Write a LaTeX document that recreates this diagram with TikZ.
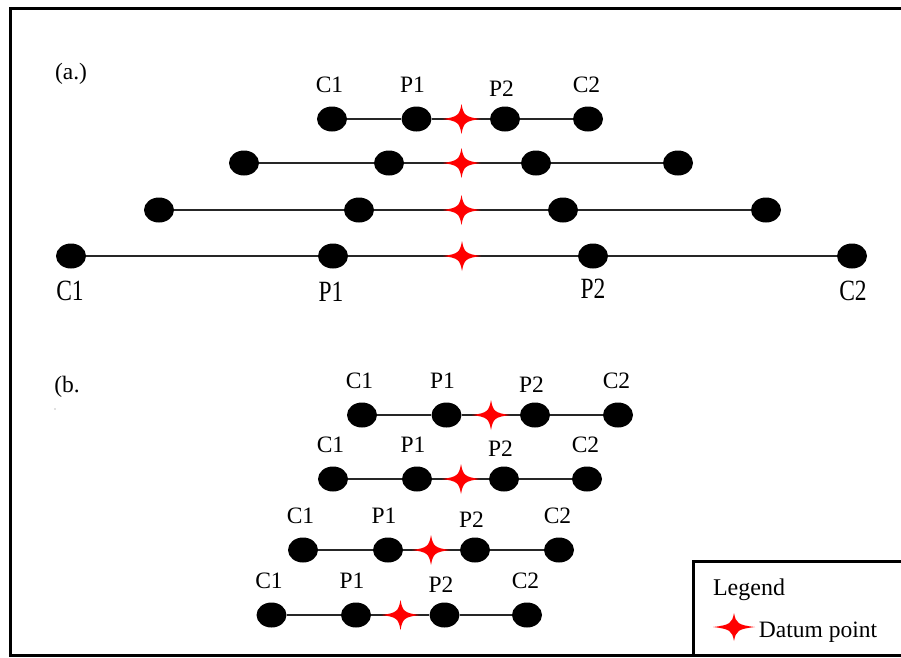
\documentclass[tikz,border=0pt]{standalone}
\usepackage{fontspec}
\setmainfont{Liberation Serif}
\usepackage{graphicx}
\usetikzlibrary{shapes.geometric}
\newcommand\labtext[2]{\scalebox{1}[#1]{#2}}
\newcommand\datumstar[3]{%
  \fill[red, shift={(#1)}] (#2,0) .. controls (3.8,2) and (2,3.8) .. (0,#3)
    .. controls (-2,3.8) and (-3.8,2) .. (-#2,0)
    .. controls (-3.8,-2) and (-2,-3.8) .. (0,-#3)
    .. controls (2,-3.8) and (3.8,-2) .. cycle;}
% name, y, c1, p1, star, p2, c2
\newcommand\gaugerow[7]{%
  \node[dot] (#1c1) at (#3,#2) {};
  \node[dot] (#1p1) at (#4,#2) {};
  \node[dot] (#1p2) at (#6,#2) {};
  \node[dot] (#1c2) at (#7,#2) {};
  \coordinate (#1s) at (#5,#2);
  \draw[link] (#1c1) -- (#1p1) -- (#1p2) -- (#1c2);
  \datumstar{#1s}{19}{15}}
\newcommand\toplabels[1]{%
  \node[lab] (#1lc1) at ([shift={(-2.5,-27)}]#1c1) {C1};
  \node[lab] (#1lp1) at ([shift={(-4,-27)}]#1p1) {P1};
  \node[lab] (#1lp2) at ([shift={(-3.5,-23)}]#1p2) {P2};
  \node[lab] (#1lc2) at ([shift={(-1.5,-27)}]#1c2) {C2};}
\begin{document}
\begin{tikzpicture}[x=1pt,y=-1pt,
  dot/.style={ellipse, fill=black, draw=none, minimum width=30pt, minimum height=25pt, inner sep=0pt},
  link/.style={line width=1.5pt, black!85},
  lab/.style={font=\fontsize{23.5}{24}\selectfont, anchor=base, inner sep=0pt},
  frame/.style={line width=3pt, black}]
\useasboundingbox (0,0) rectangle (901,657);
\fill[white] (0,0) rectangle (901,657);
% outer frame
\draw[frame] (10.5,8.3) rectangle (915,655);
% (a)
\node[lab] (la) at (71,79) {(a.)};
\gaugerow{a1}{119}{332}{416.5}{461.5}{505}{588}
\gaugerow{a2}{163}{244}{389}{461.5}{536}{678}
\gaugerow{a3}{210}{159}{359}{461.5}{563}{766}
\gaugerow{a4}{256}{71}{333}{462}{593}{852}
\toplabels{a1}
\node[lab] (a4lc1) at (70,300) {\labtext{1.25}{C1}};
\node[lab] (a4lp1) at (331,301) {\labtext{1.25}{P1}};
\node[lab] (a4lp2) at (593,298) {\labtext{1.25}{P2}};
\node[lab] (a4lc2) at (853,300) {\labtext{1.25}{C2}};
% (b)
\node[lab] (lb) at (67,392) {(b.};
\fill[gray] (55,409) circle (0.7);
\gaugerow{b1}{415}{362}{446.5}{491}{535}{618}
\gaugerow{b2}{479}{333}{417}{461}{504}{587}
\gaugerow{b3}{550}{303}{388}{431}{475}{559}
\gaugerow{b4}{615}{271.5}{356}{400.5}{444.5}{527}
\toplabels{b1}
\toplabels{b2}
\toplabels{b3}
\toplabels{b4}
% legend
\draw[frame] (693.5,561) rectangle (915,655);
\node[lab, font=\fontsize{24}{24}\selectfont] (leg) at (749,595.5) {Legend};
\coordinate (legstar) at (734,627);
\datumstar{legstar}{21}{14}
\node[lab, font=\fontsize{23.5}{24}\selectfont] (dp) at (818,637) {Datum point};
\end{tikzpicture}
\end{document}
